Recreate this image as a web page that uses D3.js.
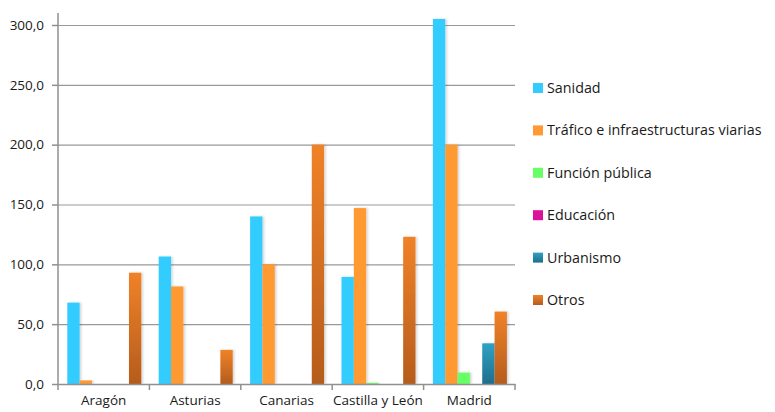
<!DOCTYPE html>
<html>
<head>
<meta charset="utf-8">
<script src="https://cdn.jsdelivr.net/npm/d3@7"></script>
<style>
  body { margin: 0; background: #fff; }
  svg text { font-family: "Open Sans", "Liberation Sans", sans-serif; fill: #1a1a1a; }
</style>
</head>
<body>
<div id="chart"></div>
<script>
// data
const regiones = ["Aragón", "Asturias", "Canarias", "Castilla y León", "Madrid"];
const series = ["Sanidad", "Tráfico e infraestructuras viarias", "Función pública", "Educación", "Urbanismo", "Otros"];
const sanidad = [68, 106.5, 140, 89.5, 305];
const trafico = [3, 81.5, 100, 147, 200];
const funcionPublica = [0, 0, 0, 1, 9.5];
const educacion = [0, 0, 0, 0, 0];
const urbanismo = [0, 0, 0, 0, 34];
const otros = [93, 28.5, 200, 123, 60.5];
const yTicks = [0, 50, 100, 150, 200, 250, 300];

const values = [sanidad, trafico, funcionPublica, educacion, urbanismo, otros];
const colors = ["#33CCFF", "#FF9933", "#66FF66", "#DD1199", "url(#gradUrb)", "url(#gradOtros)"];

const width = 775, height = 412;
const margin = { top: 25, left: 58, right: 260, bottom: 28 };
const plotW = 515 - margin.left;
const plotH = 384 - margin.top;

const svg = d3.select("#chart").append("svg")
    .attr("width", width)
    .attr("height", height);

const defs = svg.append("defs");
function vGrad(id, top, bottom) {
    const g = defs.append("linearGradient").attr("id", id)
        .attr("x1", 0).attr("y1", 0).attr("x2", 0).attr("y2", 1);
    g.append("stop").attr("offset", "0%").attr("stop-color", top);
    g.append("stop").attr("offset", "100%").attr("stop-color", bottom);
}
vGrad("gradOtros", "#F08228", "#B55C1D");
vGrad("gradUrb", "#30A2C4", "#1E6E8C");

const shadow = defs.append("filter").attr("id", "shadow")
    .attr("x", "-30%").attr("y", "-10%").attr("width", "160%").attr("height", "120%");
shadow.append("feDropShadow").attr("dx", 1.5).attr("dy", 0).attr("stdDeviation", 0.8)
    .attr("flood-color", "#000").attr("flood-opacity", 0.18);

const plot = svg.append("g")
    .attr("transform", `translate(${margin.left},${margin.top})`);

const x0 = d3.scaleBand().domain(regiones).range([0, plotW]).paddingInner(0).paddingOuter(0);
const x1 = d3.scaleBand().domain(series).range([9.3, x0.bandwidth() - 8.1]).padding(0);
const y = d3.scaleLinear().domain([0, 300]).range([plotH, 0]);

// grid lines
plot.append("g")
    .attr("class", "grid")
    .call(d3.axisLeft(y).tickValues(yTicks).tickSize(-plotW).tickFormat(""))
    .call(g => g.select(".domain").remove())
    .call(g => g.selectAll("line").attr("stroke", "#999").attr("stroke-width", 1.2));

// bars
const groups = plot.selectAll("g.region")
    .data(regiones)
    .join("g")
    .attr("class", "region")
    .attr("transform", d => `translate(${x0(d)},0)`);

groups.selectAll("rect")
    .data((d, i) => series.map((s, j) => ({ s, j, v: values[j][i] })).filter(e => e.v > 0))
    .join("rect")
    .attr("x", d => x1(d.s))
    .attr("y", d => y(d.v))
    .attr("width", x1.bandwidth())
    .attr("height", d => y(0) - y(d.v))
    .attr("fill", d => colors[d.j])
    .attr("filter", "url(#shadow)");

// y axis
const fmt = v => d3.format(".1f")(v).replace(".", ",");
const yAxis = plot.append("g")
    .call(d3.axisLeft(y).tickValues(yTicks).tickSize(6).tickPadding(8).tickFormat(fmt));
yAxis.select(".domain").remove();
yAxis.selectAll("line").attr("stroke", "#909090").attr("stroke-width", 1.5);
yAxis.selectAll("text").attr("font-size", "13.5px").attr("fill", "#1a1a1a")
    .attr("font-family", "'Open Sans', sans-serif");
yAxis.append("line")
    .attr("x1", 0).attr("x2", 0)
    .attr("y1", -12).attr("y2", plotH)
    .attr("stroke", "#909090").attr("stroke-width", 1.5);

// x axis
const xAxis = plot.append("g")
    .attr("transform", `translate(0,${plotH})`)
    .call(d3.axisBottom(x0).tickSize(0).tickPadding(11));
xAxis.select(".domain").attr("stroke", "#909090").attr("stroke-width", 1.5);
xAxis.selectAll("text").attr("font-size", "13.5px").attr("fill", "#1a1a1a")
    .attr("font-family", "'Open Sans', sans-serif");
xAxis.selectAll("line.sep")
    .data(regiones.map(r => x0(r)).concat([plotW]))
    .join("line")
    .attr("class", "sep")
    .attr("x1", d => d).attr("x2", d => d)
    .attr("y1", 0).attr("y2", 6)
    .attr("stroke", "#909090").attr("stroke-width", 1.5);

// legend
const legend = svg.append("g").attr("transform", "translate(533,0)");
const legendY = d3.scalePoint().domain(series).range([88, 300]);
const items = legend.selectAll("g")
    .data(series)
    .join("g")
    .attr("transform", d => `translate(0,${legendY(d)})`);
items.append("rect")
    .attr("x", 0).attr("y", -5)
    .attr("width", 10).attr("height", 10)
    .attr("fill", (d, i) => colors[i]);
items.append("text")
    .attr("x", 14).attr("y", 0)
    .attr("dy", "0.35em")
    .attr("font-size", "14.3px")
    .text(d => d);
</script>
</body>
</html>
